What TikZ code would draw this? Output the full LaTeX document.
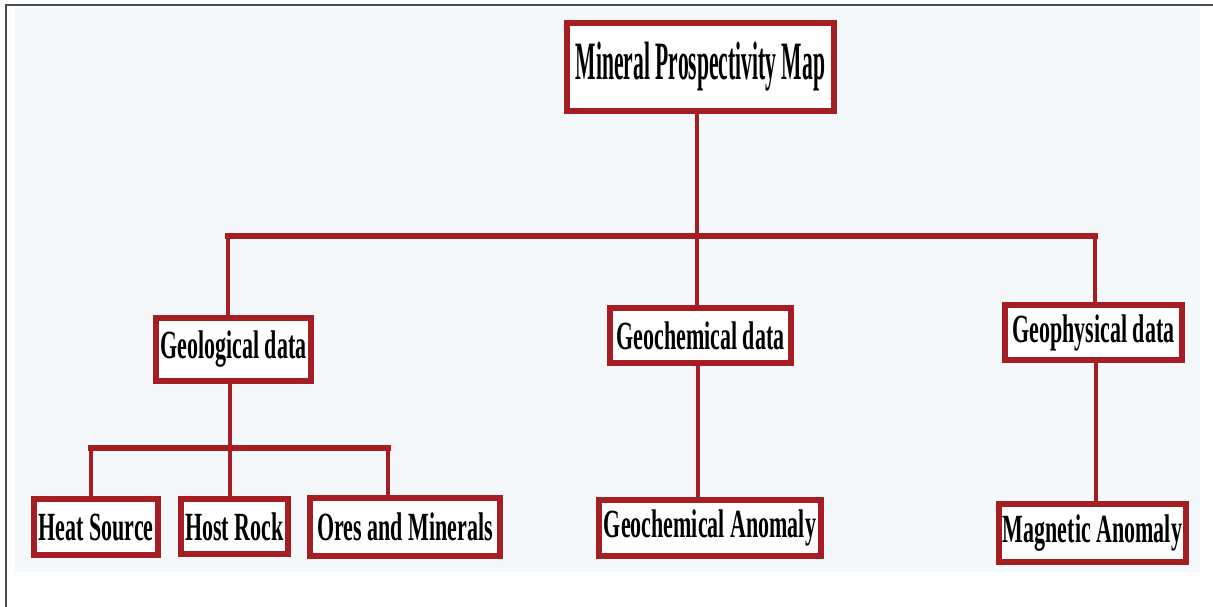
\documentclass[tikz,border=0pt]{standalone}
\usepackage{fontspec}
\usepackage{tikz}
\usetikzlibrary{calc}
\usetikzlibrary{positioning}

\newfontfamily\boxfont[FakeStretch=0.55]{Liberation Serif}
\newfontfamily\titlefont[FakeStretch=0.40]{Liberation Serif}
\definecolor{merahtua}{RGB}{164,30,36}
\definecolor{latar}{RGB}{245,248,250}

\begin{document}
\begin{tikzpicture}[x=1pt, y=-1pt,
		kotak/.style={draw=merahtua, fill=white, line width=4pt, inner sep=0pt,
			font=\boxfont\bfseries\fontsize{40}{44}\selectfont},
		garis/.style={draw=merahtua, line width=4pt},
		batang/.style={draw=merahtua, line width=6.5pt}]
				%% LATAR %%
				\useasboundingbox (0,0) rectangle (1213,607);
				\fill[latar] (15,8) rectangle (1200,572);
				\draw[line width=2pt, color=black!70] (6,607) -- (6,5) -- (1213,5);
				
				%% KOTAK-KOTAK %%
				% Kotak paling atas
				\node[kotak, minimum width=265, minimum height=86,
					font=\titlefont\bfseries\fontsize{54}{58}\selectfont] (peta) at (700.5,67) {Mineral Prospectivity Map};
				
				% Tiga kotak data
				\node[kotak, minimum width=153, minimum height=61] (geologi) at (233.5,349.5) {Geological data};
				\node[kotak, minimum width=179, minimum height=53] (geokimia) at (700.5,335.5) {Geochemical data};
				\node[kotak, minimum width=175, minimum height=53] (geofisika) at (1093.5,332.5) {Geophysical data};
				
				% Kotak paling bawah
				\node[kotak, minimum width=122, minimum height=54] (panas) at (96,527) {Heat Source};
				\node[kotak, minimum width=105, minimum height=53] (batuan) at (234.5,526.5) {Host Rock};
				\node[kotak, minimum width=188, minimum height=56] (bijih) at (405,527) {Ores and Minerals};
				\node[kotak, minimum width=220, minimum height=54] (anomkimia) at (710,528) {Geochemical Anomaly};
				\node[kotak, minimum width=185, minimum height=56] (anommagnet) at (1092.5,533) {Magnetic Anomaly};
				
				%% PENGHUBUNG %%
				% Titik cabang
				\coordinate (cabangA) at (697,236);
				\coordinate (cabangKiri) at (228,236);
				\coordinate (cabangKanan) at (1095,236);
				\coordinate (cabangB) at (230,448);
				\coordinate (cabangBKiri) at (91,448);
				\coordinate (cabangBKanan) at (388,448);
				
				% Dari peta ke tiga data
				\draw[garis] (cabangA |- peta.south) -- (cabangA);
				\draw[batang, line cap=rect] (cabangKiri) -- (cabangKanan);
				\draw[garis] (cabangKiri) -- (cabangKiri |- geologi.north);
				\draw[garis] (cabangA) -- (cabangA |- geokimia.north);
				\draw[garis] (cabangKanan) -- (cabangKanan |- geofisika.north);
				
				% Dari data geologi ke tiga kotak bawah
				\draw[garis] (cabangB |- geologi.south) -- (cabangB |- batuan.north);
				\draw[batang, line cap=rect] (cabangBKiri) -- (cabangBKanan);
				\draw[garis] (cabangBKiri) -- (cabangBKiri |- panas.north);
				\draw[garis] (cabangBKanan) -- (cabangBKanan |- bijih.north);
				
				% Dari data geokimia dan geofisika
				\draw[garis] (698,0 |- geokimia.south) -- (698,0 |- anomkimia.north);
				\draw[garis] (1096,0 |- geofisika.south) -- (1096,0 |- anommagnet.north);
				
				% Kotak digambar ulang di atas garis
				\foreach \n in {peta,geologi,geokimia,geofisika,panas,batuan,bijih,anomkimia,anommagnet}
					\draw[merahtua, line width=4pt] (\n.north west) rectangle (\n.south east);
			\end{tikzpicture}
\end{document}
